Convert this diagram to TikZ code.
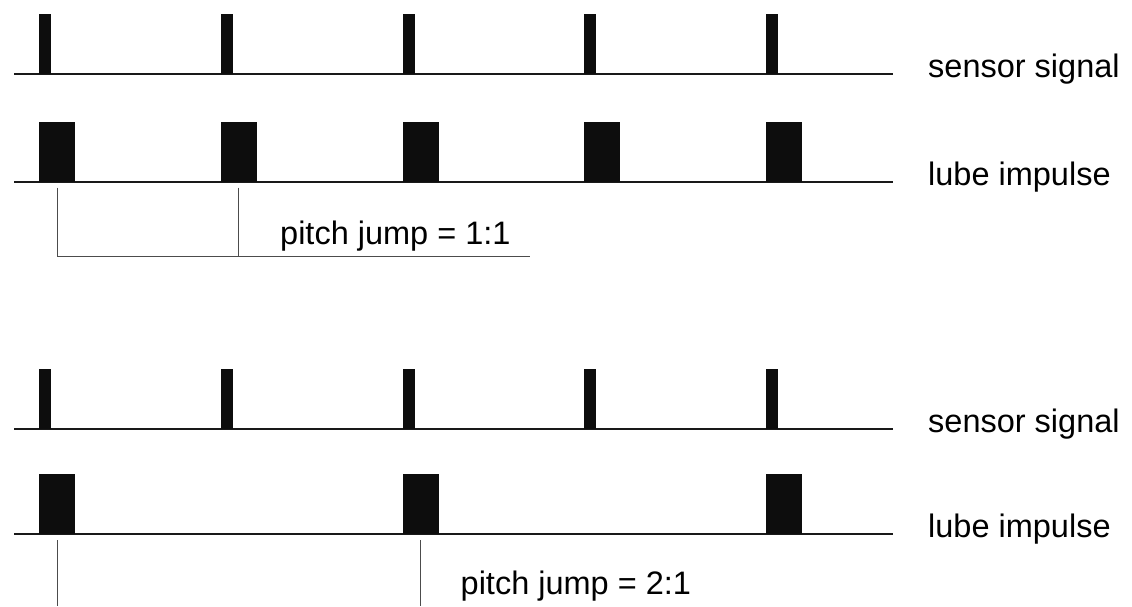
\documentclass[tikz,border=0pt]{standalone}
\usepackage{fontspec}
\newfontfamily\labfont{Liberation Sans}
\begin{document}
\begin{tikzpicture}[x=1pt,y=-1pt,
  baseline/.style={draw=black!90, line width=2pt},
  spulse/.style={rectangle, fill=black!95, inner sep=0pt, minimum width=12pt, minimum height=60pt, anchor=south west},
  lpulse/.style={rectangle, fill=black!95, inner sep=0pt, minimum width=36pt, minimum height=60pt, anchor=south west},
  bracket/.style={draw=black!70, line width=1pt},
  lab/.style={inner sep=0pt, anchor=base west, font=\labfont\fontsize{32.5}{38}\selectfont}]
\useasboundingbox (0,0) rectangle (1132,606);
% ---------- top: pitch jump 1:1
\coordinate (sa0) at (14,74);   \coordinate (sa1) at (893,74);
\coordinate (la0) at (14,181.7); \coordinate (la1) at (893,181.7);
\draw[baseline] (sa0) -- (sa1);
\draw[baseline] (la0) -- (la1);
\foreach \i/\x in {1/39,2/220.7,3/402.4,4/584.1,5/765.8}{
  \node[spulse] (sa\i p) at (\x,74.5) {};
  \node[lpulse] (la\i p) at (\x,182.2) {};
}
\node[lab] (ta1) at (928,77.5) {sensor signal};
\node[lab] (ta2) at (928,185) {lube impulse};
\coordinate (hb) at (530,256.7);
\draw[bracket] ([yshift=-5.3pt]la1p.south) -- (la1p.south |- hb) -- (hb);
\draw[bracket] ([yshift=-5.3pt]la2p.south) -- (la2p.south |- hb);
\node[lab] (pa) at (280,244.5) {pitch jump = 1:1};
% ---------- bottom: pitch jump 2:1
\coordinate (sb0) at (14,428.7); \coordinate (sb1) at (893,428.7);
\coordinate (lb0) at (14,534);   \coordinate (lb1) at (893,534);
\draw[baseline] (sb0) -- (sb1);
\draw[baseline] (lb0) -- (lb1);
\foreach \i/\x in {1/39,2/220.7,3/402.4,4/584.1,5/765.8}{
  \node[spulse] (sb\i p) at (\x,429.2) {};
}
\foreach \i/\x in {1/39,3/402.4,5/765.8}{
  \node[lpulse] (lb\i p) at (\x,534.5) {};
}
\node[lab] (tb1) at (928,432) {sensor signal};
\node[lab] (tb2) at (928,537.5) {lube impulse};
\coordinate (bb) at (0,606);
\draw[bracket] ([yshift=-5.5pt]lb1p.south) -- (lb1p.south |- bb);
\draw[bracket] ([yshift=-5.5pt]lb3p.south) -- (lb3p.south |- bb);
\node[lab] (pb) at (460.5,594.5) {pitch jump = 2:1};
\end{tikzpicture}
\end{document}
